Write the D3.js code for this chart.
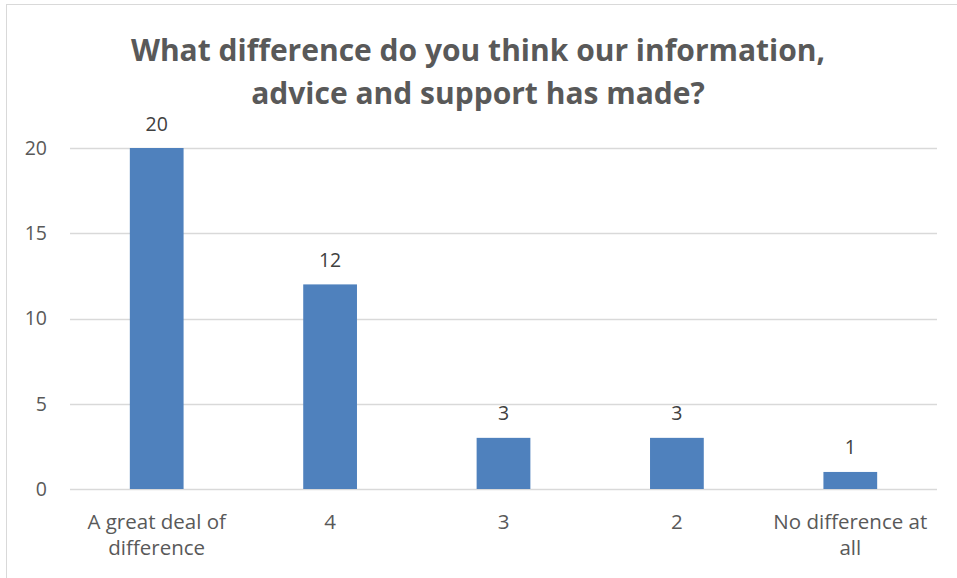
<!DOCTYPE html>
<html>
<head>
<meta charset="utf-8">
<script src="https://cdn.jsdelivr.net/npm/d3@7"></script>
<style>
  html, body { margin: 0; padding: 0; background: #fff; }
  svg { display: block; font-family: "Open Sans", sans-serif; }
</style>
</head>
<body>
<svg id="chart" width="957" height="578"></svg>
<script>
const categories = [["A great deal of", "difference"], ["4"], ["3"], ["2"], ["No difference at", "all"]];
const values = [20, 12, 3, 3, 1];
const yTicks = [0, 5, 10, 15, 20];
const titleLines = ["What difference do you think our information,", "advice and support has made?"];

const svg = d3.select("#chart");
const W = 957, H = 578;
const plot = { left: 70, right: 937, top: 148, bottom: 489 };
const textColor = "#595959";

// chart frame
svg.append("rect")
  .attr("x", 6.5).attr("y", 4.5)
  .attr("width", W).attr("height", H)
  .attr("fill", "#fff").attr("stroke", "#d9d9d9").attr("stroke-width", 1);

const x = d3.scaleBand()
  .domain(d3.range(categories.length))
  .range([plot.left, plot.right])
  .paddingInner(0.69).paddingOuter(0.345);

const y = d3.scaleLinear().domain([0, 20]).range([plot.bottom, plot.top]);

// gridlines
svg.append("g").selectAll("line").data(yTicks).join("line")
  .attr("x1", plot.left).attr("x2", plot.right)
  .attr("y1", d => Math.round(y(d)) + 0.5).attr("y2", d => Math.round(y(d)) + 0.5)
  .attr("stroke", "#d9d9d9").attr("stroke-width", 1.3);

// y axis labels
const yAxis = d3.axisLeft(y).tickValues(yTicks).tickSize(0).tickPadding(0);
const yg = svg.append("g").attr("transform", `translate(${plot.left - 23},0)`).call(yAxis);
yg.select(".domain").remove();
yg.selectAll("text").attr("fill", textColor).attr("font-size", 19.5)
  .attr("font-family", "'Open Sans', sans-serif");

// bars
svg.append("g").selectAll("rect").data(values).join("rect")
  .attr("x", (d, i) => x(i)).attr("width", x.bandwidth())
  .attr("y", d => y(d)).attr("height", d => y(0) - y(d))
  .attr("fill", "#4f81bd");

// value labels
svg.append("g").selectAll("text").data(values).join("text")
  .attr("x", (d, i) => x(i) + x.bandwidth() / 2)
  .attr("y", d => y(d) - 17.5)
  .attr("text-anchor", "middle")
  .attr("fill", "#404040").attr("font-size", 19.5)
  .text(d => d);

// category labels
const cat = svg.append("g").selectAll("text").data(categories).join("text")
  .attr("x", (d, i) => x(i) + x.bandwidth() / 2)
  .attr("y", plot.bottom + 40)
  .attr("text-anchor", "middle")
  .attr("fill", textColor).attr("font-size", 20.5);
cat.selectAll("tspan").data(d => d).join("tspan")
  .attr("x", function () { return d3.select(this.parentNode).attr("x"); })
  .attr("dy", (d, i) => i === 0 ? 0 : 26)
  .text(d => d);

// title
svg.append("text")
  .attr("x", 478).attr("y", 61)
  .attr("text-anchor", "middle")
  .attr("fill", textColor).attr("font-size", 30).attr("font-weight", "bold")
  .selectAll("tspan").data(titleLines).join("tspan")
  .attr("x", 478).attr("dy", (d, i) => i === 0 ? 0 : 43)
  .text(d => d);
</script>
</body>
</html>
